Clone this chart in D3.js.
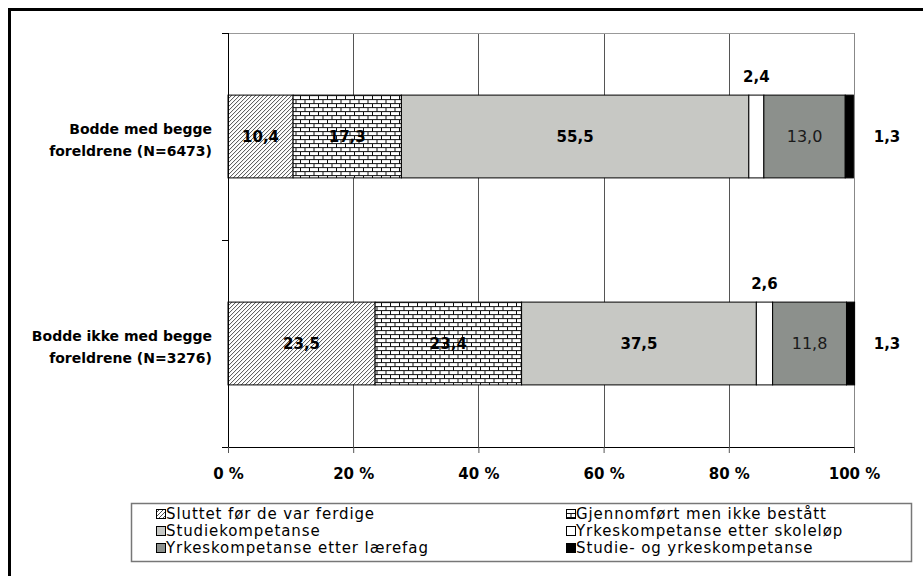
<!DOCTYPE html>
<html>
<head>
<meta charset="utf-8">
<script src="https://cdn.jsdelivr.net/npm/d3@7"></script>
<style>
  body { margin: 0; background: #fff; }
  svg { display: block; font-family: "DejaVu Sans", sans-serif; }
</style>
</head>
<body>
<div id="chart"></div>
<script>
// data
var categories = ["Bodde med begge|foreldrene (N=6473)", "Bodde ikke med begge|foreldrene (N=3276)"];
var seriesNames = ["Sluttet før de var ferdige", "Gjennomført men ikke bestått", "Studiekompetanse",
                   "Yrkeskompetanse etter skoleløp", "Yrkeskompetanse etter lærefag", "Studie- og yrkeskompetanse"];
var valuesRow1 = [10.4, 17.3, 55.5, 2.4, 13.0, 1.3];
var valuesRow2 = [23.5, 23.4, 37.5, 2.6, 11.8, 1.3];
var tickLabels = ["0 %", "20 %", "40 %", "60 %", "80 %", "100 %"];
var tickValues = [0, 20, 40, 60, 80, 100];

var rows = [valuesRow1, valuesRow2];
var fills = ["url(#hatch)", "url(#brick)", "#c7c8c4", "#ffffff", "#8c908c", "#000000"];

var W = 923, H = 576;
var margin = {top: 33, left: 228, right: 69, bottom: 129};
var width = W - margin.left - margin.right,
    height = H - margin.top - margin.bottom;

var svg = d3.select("#chart").append("svg")
    .attr("width", W)
    .attr("height", H);

// patterns
var defs = svg.append("defs");
var hatch = defs.append("pattern")
    .attr("id", "hatch")
    .attr("patternUnits", "userSpaceOnUse")
    .attr("width", 4).attr("height", 4);
hatch.append("rect").attr("width", 4).attr("height", 4).attr("fill", "#fff");
hatch.append("path")
    .attr("d", "M-1,1 l2,-2 M0,4 l4,-4 M3,5 l2,-2")
    .attr("stroke", "#222").attr("stroke-width", 0.8);

var brick = defs.append("pattern")
    .attr("id", "brick")
    .attr("patternUnits", "userSpaceOnUse")
    .attr("width", 9).attr("height", 8);
brick.append("rect").attr("width", 9).attr("height", 8).attr("fill", "#fff");
brick.append("path")
    .attr("d", "M0,0.5 H9 M0,4.5 H9 M0.5,0 V4 M5,4 V8")
    .attr("stroke", "#111").attr("stroke-width", 1);

// outer frame (only top/left visible)
svg.append("rect")
    .attr("x", 9.5).attr("y", 9.5)
    .attr("width", W + 20).attr("height", H + 20)
    .attr("fill", "none").attr("stroke", "#000").attr("stroke-width", 3);

var g = svg.append("g")
    .attr("transform", "translate(" + margin.left + "," + margin.top + ")");

var x = d3.scaleLinear().domain([0, 100]).range([0, width]);
var y = d3.scaleBand().domain(d3.range(categories.length)).range([0, height]).paddingInner(0.6).paddingOuter(0.3);
var yEdge = d3.scaleLinear().domain([0, categories.length]).range([0, height]);

// gridlines
g.selectAll(".grid")
    .data(tickValues.slice(1))
  .enter().append("line")
    .attr("x1", function(d) { return Math.round(x(d)) + 0.5; })
    .attr("x2", function(d) { return Math.round(x(d)) + 0.5; })
    .attr("y1", 0).attr("y2", height)
    .attr("stroke", function(d) { return d === 100 ? "#888" : "#555"; })
    .attr("stroke-width", 1);
g.append("line")
    .attr("x1", 0).attr("x2", width)
    .attr("y1", 0.5).attr("y2", 0.5)
    .attr("stroke", "#999");

// stacked bars
var stacked = rows.map(function(r) {
  var acc = 0;
  return r.map(function(v, i) {
    var s = {x0: acc, x1: acc + v, v: v, i: i};
    acc += v;
    return s;
  });
});

var rowG = g.selectAll(".row")
    .data(stacked)
  .enter().append("g")
    .attr("transform", function(d, i) { return "translate(0," + y(i) + ")"; });

rowG.selectAll("rect")
    .data(function(d) { return d; })
  .enter().append("rect")
    .attr("x", function(d) { return x(d.x0); })
    .attr("width", function(d) { return x(d.x1) - x(d.x0); })
    .attr("y", 0)
    .attr("height", y.bandwidth())
    .attr("fill", function(d) { return fills[d.i]; })
    .attr("stroke", "#000")
    .attr("stroke-width", 1);

// value labels
rowG.selectAll("text")
    .data(function(d) { return d; })
  .enter().append("text")
    .attr("x", function(d) {
      if (d.i === 5) return x(100) + 33;
      return x((d.x0 + d.x1) / 2);
    })
    .attr("y", function(d) {
      if (d.i === 3) return -19;
      return y.bandwidth() / 2;
    })
    .attr("dy", "0.36em")
    .attr("text-anchor", "middle")
    .attr("font-size", function(d) { return d.i === 4 ? 16 : 15; })
    .attr("font-weight", function(d) { return d.i === 4 ? "normal" : "bold"; })
    .attr("fill", function(d) { return d.i === 4 ? "#1a1a1a" : "#000"; })
    .text(function(d) { return d3.format(".1f")(d.v).replace(".", ","); });

// x axis
var xAxis = g.append("g")
    .attr("transform", "translate(0," + height + ")")
    .call(d3.axisBottom(x).tickValues(tickValues).tickSize(6)
      .tickFormat(function(d, i) { return tickLabels[i]; }));
xAxis.select(".domain").attr("stroke", "#000");
xAxis.selectAll(".tick line").attr("stroke", "#555");
xAxis.selectAll("text")
    .attr("font-size", 15).attr("font-weight", "bold")
    .attr("font-family", "DejaVu Sans")
    .attr("fill", "#000").attr("dy", "1.55em");

// y axis with edge ticks
var yAxis = g.append("g");
yAxis.append("line")
    .attr("x1", 0.5).attr("x2", 0.5).attr("y1", 0).attr("y2", height)
    .attr("stroke", "#000");
yAxis.selectAll(".yt")
    .data(d3.range(categories.length + 1))
  .enter().append("line")
    .attr("x1", -6).attr("x2", 0)
    .attr("y1", function(d) { return Math.round(yEdge(d)) + 0.5; })
    .attr("y2", function(d) { return Math.round(yEdge(d)) + 0.5; })
    .attr("stroke", "#000");

// category labels
categories.forEach(function(c, i) {
  var lines = c.split("|");
  var t = g.append("text")
      .attr("text-anchor", "end")
      .attr("font-size", 14)
      .attr("font-weight", "bold")
      .attr("y", y(i) + y.bandwidth() / 2 - 3);
  lines.forEach(function(l, j) {
    t.append("tspan")
      .attr("x", -16)
      .attr("dy", j === 0 ? "0" : "1.6em")
      .text(l);
  });
});

// legend
var lg = svg.append("g").attr("transform", "translate(131,503)");
lg.append("rect")
    .attr("x", 0.5).attr("y", 0.5)
    .attr("width", 780).attr("height", 58)
    .attr("fill", "#fff").attr("stroke", "#777").attr("stroke-width", 1.5);
var items = lg.selectAll(".item")
    .data(seriesNames)
  .enter().append("g")
    .attr("transform", function(d, i) {
      return "translate(" + (i % 2 === 0 ? 25 : 435) + "," + (6 + Math.floor(i / 2) * 17) + ")";
    });
items.append("rect")
    .attr("x", 0.5).attr("y", 0.5)
    .attr("width", 9).attr("height", 9)
    .attr("fill", function(d, i) { return fills[i]; })
    .attr("stroke", "#000");
items.append("text")
    .attr("x", 10).attr("y", 5)
    .attr("dy", "0.36em")
    .attr("font-size", 15)
    .attr("letter-spacing", 0.9)
    .attr("fill", "#000")
    .text(function(d) { return d; });
</script>
</body>
</html>
